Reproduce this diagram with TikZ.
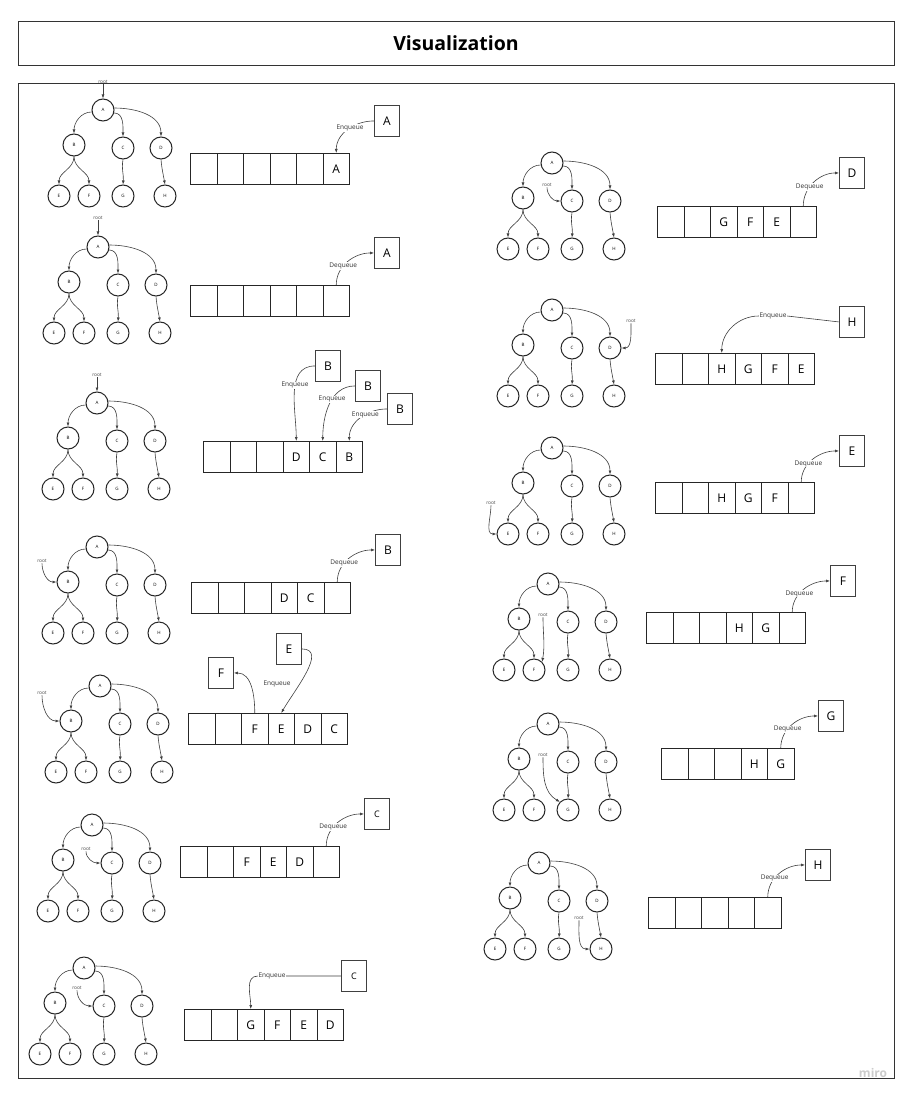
\documentclass[tikz,border=0pt]{standalone}
\usepackage{fontspec}
\setmainfont{Open Sans}
\usetikzlibrary{arrows.meta}
\tikzset{
 tn/.style={circle,draw=black!85,line width=1pt,minimum size=22pt,inner sep=0pt,font=\fontsize{4.5}{5}\selectfont},
 ar/.style={-{Latex[length=4pt,width=3pt]},line width=0.6pt,draw=black!75},
 qc/.style={rectangle,draw=black!85,line width=1pt,minimum width=26.5pt,minimum height=31pt,inner sep=0pt,anchor=north west,font=\fontsize{12}{12}\selectfont},
 vb/.style={rectangle,draw=black!75,line width=0.9pt,minimum width=25pt,minimum height=31pt,inner sep=0pt,anchor=north west,font=\fontsize{12}{12}\selectfont},
 lbl/.style={font=\fontsize{6.5}{7}\selectfont,fill=white,inner sep=0.6pt,text=black!80},
 rt/.style={font=\fontsize{4.8}{5}\selectfont,inner sep=0.5pt,text=black!70},
}
\newcommand{\bfstree}[3]{%
\begin{scope}[shift={(#2,-#3)}]
\node[tn] (#1A) at (0,0) {A};
\node[tn] (#1B) at (-29,-35) {B};
\node[tn] (#1C) at (20,-38) {C};
\node[tn] (#1D) at (58,-38) {D};
\node[tn] (#1E) at (-44,-86) {E};
\node[tn] (#1F) at (-14,-86) {F};
\node[tn] (#1G) at (20,-86) {G};
\node[tn] (#1H) at (62,-86) {H};
\draw[ar] (#1A.190) to[out=180,in=90] (#1B.north);
\draw[ar] (#1A.-15) to[out=0,in=90] (#1C.north);
\draw[ar] (#1A.10) to[out=0,in=90] (#1D.north);
\draw[ar] (#1B.south) to[out=-90,in=90] (#1E.north);
\draw[ar] (#1B.south) to[out=-90,in=90] (#1F.north);
\draw[ar] (#1C.south) to[out=-100,in=85] (#1G.north);
\draw[ar] (#1D.south) to[out=-85,in=100] (#1H.north);
\end{scope}}
\newcommand{\bfsqueue}[4]{%
\foreach \t [count=\i] in {#4} {\node[qc] (#1\i) at ({#2+(\i-1)*26.5},-#3) {\t};}}
\begin{document}
\begin{tikzpicture}[x=1pt,y=1pt]
\useasboundingbox (0,0) rectangle (909,-1099);
\fill[white] (0,0) rectangle (909,-1099);
% title and frame
\node[draw=black!80,line width=0.8pt,minimum width=876pt,minimum height=44pt,inner sep=0pt,font=\fontsize{19.5}{21}\selectfont\bfseries] (title) at (456,-43) {Visualization};
\draw[black!80,line width=0.8pt] (18,-83) rectangle (894,-1078);
\node[text=black!20,font=\fontsize{12}{12}\selectfont\bfseries] (miro) at (873,-1073) {miro};

% ---------- trees ----------
\bfstree{a}{103}{110}
\node[rt] (ra) at (103,-82) {root};
\draw[ar] (ra.south) -- (aA.north);
\bfstree{b}{98}{247}
\node[rt] (rb) at (98,-218) {root};
\draw[ar] (rb.south) -- (bA.north);
\bfstree{c}{97}{403}
\node[rt] (rc) at (97,-375) {root};
\draw[ar] (rc.south) -- (cA.north);
\bfstree{d}{97}{547}
\node[rt] (rd) at (42,-561) {root};
\draw[ar] (rd.south) to[out=-90,in=180] (dB.west);
\bfstree{e}{100}{686}
\node[rt] (re) at (42,-693) {root};
\draw[ar] (re.south) to[out=-90,in=180] (eB.west);
\bfstree{f}{92}{825}
\node[rt] (rf) at (86,-849) {root};
\draw[ar] (rf.south) to[out=-90,in=180] (fC.west);
\bfstree{g}{84}{968}
\node[rt] (rg) at (77,-988) {root};
\draw[ar] (rg.south) to[out=-90,in=180] (gC.west);
\bfstree{h}{552}{163}
\node[rt] (rh) at (547,-185) {root};
\draw[ar] (rh.south) to[out=-90,in=180] (hC.west);
\bfstree{i}{552}{310}
\node[rt] (ri) at (631,-321) {root};
\draw[ar] (ri.south) to[out=-90,in=0] (iD.east);
\bfstree{j}{552}{448}
\node[rt] (rj) at (491,-503) {root};
\draw[ar] (rj.south) to[out=-90,in=180] (jE.west);
\bfstree{k}{548}{584}
\node[rt] (rk) at (543,-615) {root};
\draw[ar] (rk.south) to[out=-90,in=80] (kF.north east);
\bfstree{l}{548}{724}
\node[rt] (rl) at (543,-755) {root};
\draw[ar] (rl.south) to[out=-90,in=150] (lG.north west);
\bfstree{m}{539}{863}
\node[rt] (rm) at (579,-918) {root};
\draw[ar] (rm.south) to[out=-90,in=180] (mH.west);

% ---------- queues ----------
\bfsqueue{qa}{190}{153}{{},{},{},{},{},A}
\bfsqueue{qb}{190}{285}{{},{},{},{},{},{}}
\bfsqueue{qc}{203}{441}{{},{},{},D,C,B}
\bfsqueue{qd}{191}{582}{{},{},{},D,C,{}}
\bfsqueue{qe}{188}{713}{{},{},F,E,D,C}
\bfsqueue{qf}{180}{846}{{},{},F,E,D,{}}
\bfsqueue{qg}{184}{1009}{{},{},G,F,E,D}
\bfsqueue{qh}{657}{206}{{},{},G,F,E,{}}
\bfsqueue{qi}{655}{353}{{},{},H,G,F,E}
\bfsqueue{qj}{655}{482}{{},{},H,G,F,{}}
\bfsqueue{qk}{646}{612}{{},{},{},H,G,{}}
\bfsqueue{ql}{661}{748}{{},{},{},H,G}
\bfsqueue{qm}{648}{897}{{},{},{},{},{}}

% ---------- value boxes ----------
\node[vb] (va) at (374,-105) {A};
\node[vb] (vb2) at (374,-237) {A};
\node[vb] (vc1) at (315,-350) {B};
\node[vb] (vc2) at (355,-370) {B};
\node[vb] (vc3) at (387,-393) {B};
\node[vb] (vd) at (375,-534) {B};
\node[vb] (vef) at (208,-657) {F};
\node[vb] (vee) at (276,-633) {E};
\node[vb,font=\fontsize{9}{9}\selectfont] (vf) at (364,-798) {C};
\node[vb,font=\fontsize{9}{9}\selectfont] (vg) at (341,-960) {C};
\node[vb] (vh) at (839,-157) {D};
\node[vb] (vi) at (839,-306) {H};
\node[vb] (vj) at (839,-435) {E};
\node[vb] (vk) at (830,-565) {F};
\node[vb] (vl) at (818,-700) {G};
\node[vb] (vm) at (805,-849) {H};

% ---------- enqueue / dequeue connectors ----------
\draw[ar] (va.west) to[out=180,in=90] node[lbl,pos=0.45] {Enqueue} (qa6.north);
\draw[ar] (qb6.north) to[out=90,in=180] node[lbl,pos=0.38] {Dequeue} (vb2.west);
\draw[ar] (vc1.west) to[out=180,in=90] node[lbl,pos=0.42] {Enqueue} (qc4.north);
\draw[ar] (vc2.west) to[out=180,in=90] node[lbl,pos=0.42] {Enqueue} (qc5.north);
\draw[ar] (vc3.west) to[out=180,in=90] node[lbl,pos=0.4] {Enqueue} (qc6.north);
\draw[ar] (qd6.north) to[out=90,in=180] node[lbl,pos=0.38] {Dequeue} (vd.west);
\draw[ar] (vee.east) to[out=0,in=60] (qe4.north);
\node[lbl] (le) at (277,-684) {Enqueue};
\draw[ar] (qe3.north) to[out=90,in=0] (vef.east);
\draw[ar] (qf6.north) to[out=90,in=180] node[lbl,pos=0.38] {Dequeue} (vf.west);
\node[lbl] (lg) at (272,-976) {Enqueue};
\draw[black!75,line width=0.6pt] (vg.west) -- (lg.east);
\draw[ar] (lg.west) to[out=180,in=90] (qg3.north);
\draw[ar] (qh6.north) to[out=90,in=180] node[lbl,pos=0.38] {Dequeue} (vh.west);
\node[lbl] (li) at (773,-316) {Enqueue};
\draw[black!75,line width=0.6pt] (vi.west) -- (li.east);
\draw[ar] (li.west) to[out=180,in=90] (qi3.north);
\draw[ar] (qj6.north) to[out=90,in=180] node[lbl,pos=0.38] {Dequeue} (vj.west);
\draw[ar] (qk6.north) to[out=90,in=180] node[lbl,pos=0.38] {Dequeue} (vk.west);
\draw[ar] (ql5.north) to[out=90,in=180] node[lbl,pos=0.38] {Dequeue} (vl.west);
\draw[ar] (qm5.north) to[out=90,in=180] node[lbl,pos=0.38] {Dequeue} (vm.west);
\end{tikzpicture}
\end{document}
